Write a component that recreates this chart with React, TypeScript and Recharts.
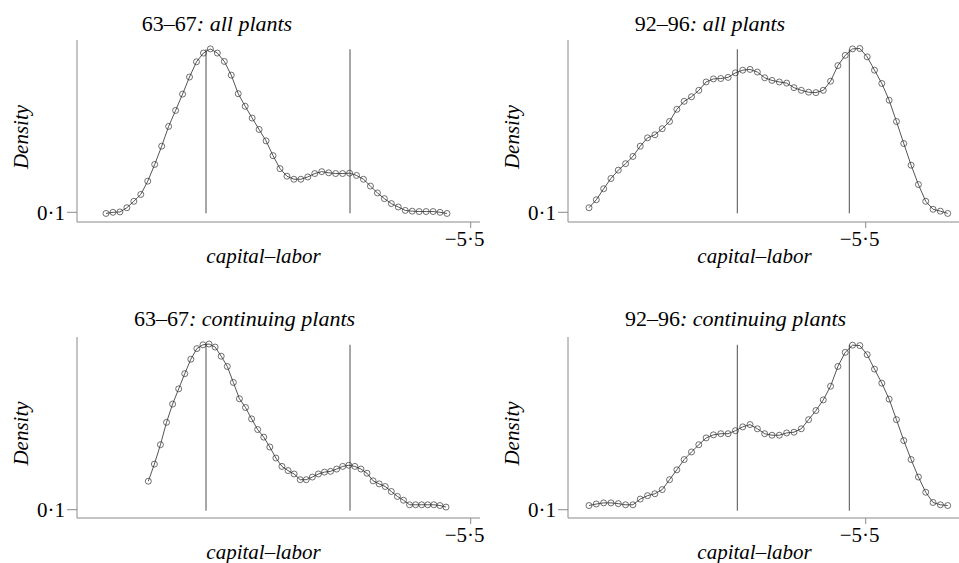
import React from 'react';
import { LineChart, Line, XAxis, YAxis, ReferenceLine, Label } from 'recharts';

const FONT = '"Liberation Serif", "Times New Roman", Times, serif';

// ---- data -------------------------------------------------------------
const periods = ['63–67', '92–96', '63–67', '92–96'];
const groups = ['all plants', 'all plants', 'continuing plants', 'continuing plants'];

// evaluation grid of each kernel density: [first, last] capital–labor value (50 points)
const grid6367All = [-9.147, -5.737];
const grid9296All = [-8.267, -4.68];
const grid6367Cont = [-8.724, -5.747];
const grid9296Cont = [-8.267, -4.68];

const density6367All = [
  0.097, 0.1, 0.101, 0.112, 0.129, 0.147, 0.182, 0.226, 0.274, 0.326,
  0.368, 0.411, 0.456, 0.496, 0.519, 0.53, 0.519, 0.497, 0.461, 0.412,
  0.379, 0.348, 0.318, 0.288, 0.249, 0.215, 0.195, 0.187, 0.187, 0.193,
  0.202, 0.207, 0.204, 0.202, 0.202, 0.203, 0.197, 0.187, 0.169, 0.151,
  0.136, 0.123, 0.114, 0.105, 0.103, 0.102, 0.102, 0.102, 0.1, 0.097,
];
const density9296All = [
  0.112, 0.133, 0.162, 0.189, 0.211, 0.228, 0.247, 0.274, 0.296, 0.304,
  0.32, 0.339, 0.371, 0.392, 0.404, 0.421, 0.443, 0.451, 0.452, 0.455,
  0.467, 0.474, 0.476, 0.469, 0.454, 0.447, 0.443, 0.44, 0.428, 0.421,
  0.416, 0.415, 0.421, 0.445, 0.486, 0.513, 0.53, 0.531, 0.509, 0.474,
  0.439, 0.395, 0.339, 0.281, 0.224, 0.173, 0.129, 0.108, 0.103, 0.097,
];
const density6367Cont = [
  0.175, 0.22, 0.271, 0.33, 0.378, 0.418, 0.458, 0.496, 0.524, 0.534,
  0.536, 0.528, 0.504, 0.477, 0.435, 0.392, 0.369, 0.339, 0.311, 0.291,
  0.265, 0.236, 0.214, 0.203, 0.194, 0.179, 0.179, 0.186, 0.194, 0.199,
  0.201, 0.207, 0.214, 0.217, 0.214, 0.207, 0.196, 0.176, 0.168, 0.161,
  0.148, 0.135, 0.125, 0.113, 0.113, 0.113, 0.113, 0.113, 0.111, 0.107,
];
const density9296Cont = [
  0.111, 0.115, 0.118, 0.118, 0.116, 0.113, 0.113, 0.128, 0.137, 0.142,
  0.153, 0.179, 0.205, 0.232, 0.252, 0.271, 0.289, 0.297, 0.3, 0.3,
  0.308, 0.318, 0.324, 0.313, 0.3, 0.296, 0.296, 0.302, 0.304, 0.313,
  0.337, 0.361, 0.389, 0.425, 0.477, 0.514, 0.533, 0.532, 0.508, 0.47,
  0.433, 0.391, 0.337, 0.282, 0.232, 0.186, 0.146, 0.119, 0.113, 0.111,
];

// vertical reference lines (capital–labor values)
const refLines6367 = [-8.147, -6.707];
const refLines9296 = [-6.784, -5.664];
// vertical extent of the reference lines (density)
const refSpanTop = [0.0974, 0.529];
const refSpanBottom = [0.0974, 0.534];

// axis domains and ticks
const xDomain6367 = [-9.437, -5.407];
const xDomain9296 = [-8.477, -4.567];
const yDomainTop = [0.0745, 0.5534];
const yDomainBottom = [0.0782, 0.5545];
const xTicks = [-5.5];
const yTicks = [0.1];

const toRows = (grid: number[], dens: number[]) =>
  dens.map((d, i) => ({
    x: grid[0] + ((grid[1] - grid[0]) * i) / (dens.length - 1),
    y: d,
  }));

// ---- layout -----------------------------------------------------------
const panels = [
  {
    rows: toRows(grid6367All, density6367All), refs: refLines6367, span: refSpanTop,
    xDomain: xDomain6367, yDomain: yDomainTop,
    left: 0, top: 0, width: 500, height: 280, mTop: 40, mRight: 20, yW: 77, xH: 58,
    titleX: 217, titleY: 31,
  },
  {
    rows: toRows(grid9296All, density9296All), refs: refLines9296, span: refSpanTop,
    xDomain: xDomain9296, yDomain: yDomainTop,
    left: 480, top: 0, width: 479, height: 280, mTop: 40, mRight: 0, yW: 88, xH: 58,
    titleX: 710, titleY: 31,
  },
  {
    rows: toRows(grid6367Cont, density6367Cont), refs: refLines6367, span: refSpanBottom,
    xDomain: xDomain6367, yDomain: yDomainBottom,
    left: 0, top: 283, width: 500, height: 280, mTop: 54, mRight: 20, yW: 77, xH: 45,
    titleX: 244.5, titleY: 326,
  },
  {
    rows: toRows(grid9296Cont, density9296Cont), refs: refLines9296, span: refSpanBottom,
    xDomain: xDomain9296, yDomain: yDomainBottom,
    left: 480, top: 283, width: 479, height: 280, mTop: 54, mRight: 0, yW: 88, xH: 45,
    titleX: 735.5, titleY: 326,
  },
];

const AXIS = '#8a8a8a';
const fmt = (v: number) => (v < 0 ? '−' : '') + Math.abs(v).toString().replace('.', '·');

function Panel({ p }: { p: (typeof panels)[number] }) {
  return (
    <div style={{ position: 'absolute', left: p.left, top: p.top }}>
      <LineChart
        width={p.width}
        height={p.height}
        data={p.rows}
        margin={{ top: p.mTop, right: p.mRight, bottom: 0, left: 0 }}
      >
        <XAxis
          type="number"
          dataKey="x"
          domain={p.xDomain}
          ticks={xTicks}
          tickFormatter={fmt}
          allowDataOverflow
          height={p.xH}
          stroke={AXIS}
          tickSize={6}
          tickMargin={3}
          tick={{ fill: '#000', fontSize: 21, fontFamily: FONT, dx: -6 }}
        >
          <Label
            content={(lp: any) => {
              const vb = lp.viewBox;
              return (
                <text
                  x={vb.x + 186.5}
                  y={vb.y + 40.5}
                  textAnchor="middle"
                  fontFamily={FONT}
                  fontSize={21}
                  fontStyle="italic"
                  fill="#000"
                >
                  capital–labor
                </text>
              );
            }}
          />
        </XAxis>
        <YAxis
          type="number"
          dataKey="y"
          domain={p.yDomain}
          ticks={yTicks}
          tickFormatter={fmt}
          allowDataOverflow
          width={p.yW}
          stroke={AXIS}
          tickSize={10}
          tickMargin={2}
          tick={{ fill: '#000', fontSize: 21, fontFamily: FONT }}
        >
          <Label
            content={(lp: any) => {
              const vb = lp.viewBox;
              const cx = vb.x + vb.width - 56;
              const cy = vb.y + vb.height / 2 + 6;
              return (
                <text
                  x={cx}
                  y={cy}
                  transform={`rotate(-90 ${cx} ${cy})`}
                  textAnchor="middle"
                  dominantBaseline="central"
                  fontFamily={FONT}
                  fontSize={21}
                  fontStyle="italic"
                  fill="#000"
                >
                  Density
                </text>
              );
            }}
          />
        </YAxis>
        {p.refs.map((r) => (
          <ReferenceLine
            key={r}
            segment={[
              { x: r, y: p.span[0] },
              { x: r, y: p.span[1] },
            ]}
            stroke="#3a3a3a"
            strokeWidth={0.9}
          />
        ))}
        <Line
          type="linear"
          dataKey="y"
          stroke="#2a2a2a"
          strokeWidth={0.8}
          dot={{ r: 3, stroke: '#333', strokeWidth: 0.7, fill: 'none' }}
          isAnimationActive={false}
        />
      </LineChart>
    </div>
  );
}

export default function App() {
  return (
    <div
      style={{
        position: 'absolute',
        left: 0,
        top: 0,
        width: 959,
        height: 563,
        background: '#fff',
        overflow: 'hidden',
      }}
    >
      {panels.map((p, i) => (
        <Panel key={i} p={p} />
      ))}
      <svg
        width={959}
        height={563}
        style={{ position: 'absolute', left: 0, top: 0, pointerEvents: 'none' }}
      >
        {panels.map((p, i) => (
          <text
            key={i}
            x={p.titleX}
            y={p.titleY}
            textAnchor="middle"
            fontFamily={FONT}
            fontSize={22}
            fill="#000"
          >
            <tspan>{periods[i]}</tspan>
            <tspan fontStyle="italic">{': ' + groups[i]}</tspan>
          </text>
        ))}
      </svg>
    </div>
  );
}
